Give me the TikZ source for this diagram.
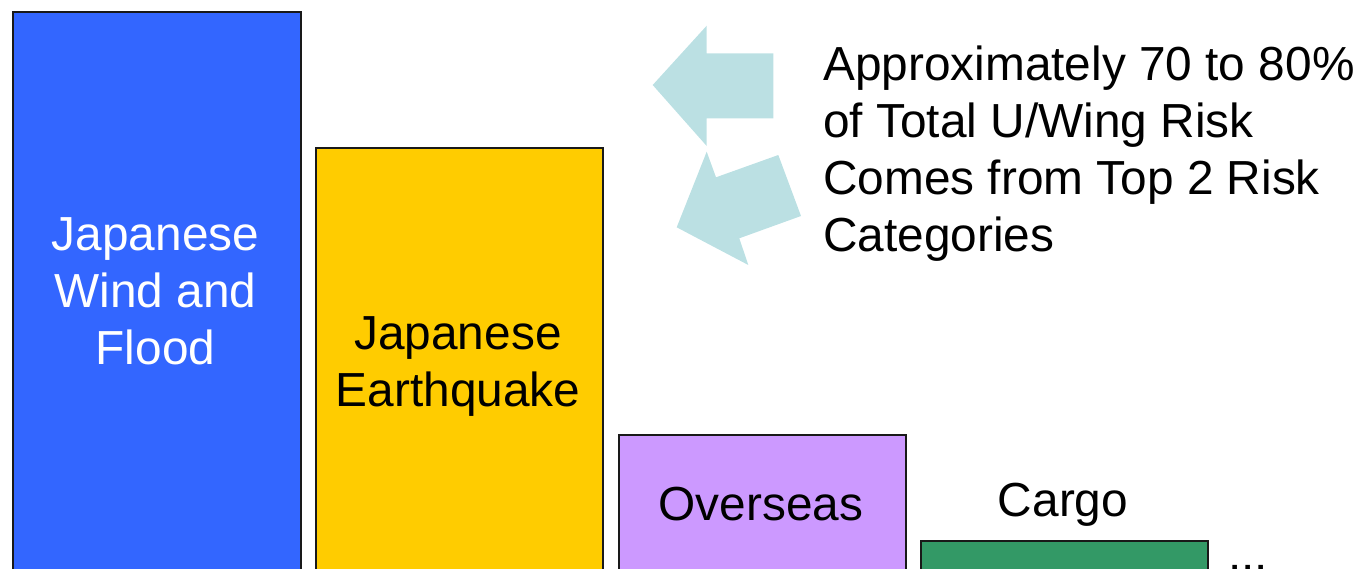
\documentclass[tikz,border=0pt]{standalone}
\usepackage{fontspec}
\setmainfont{Liberation Sans}
\definecolor{barblue}{RGB}{51,102,255}
\definecolor{baryellow}{RGB}{255,204,0}
\definecolor{barpurple}{RGB}{204,153,255}
\definecolor{bargreen}{RGB}{51,153,102}
\definecolor{arrowcol}{RGB}{187,224,227}
\begin{document}
\begin{tikzpicture}[x=1pt,y=-1pt,
  bar/.style={draw=black!90,line width=2pt,anchor=north west,inner sep=0pt},
  lbl/.style={font=\fontsize{47.8}{57}\selectfont,align=center,inner sep=0pt,anchor=north},
  bigarrow/.style={fill=arrowcol,draw=none}]
\useasboundingbox (0,0) rectangle (1360,568);
% bars
\node[bar,fill=barblue,minimum width=288pt,minimum height=600pt] (b1) at (11.5,10.5) {};
\node[bar,fill=baryellow,minimum width=287pt,minimum height=460pt] (b2) at (314.5,146.5) {};
\node[bar,fill=barpurple,minimum width=287pt,minimum height=200pt] (b3) at (617.5,433.5) {};
\node[bar,fill=bargreen,minimum width=287pt,minimum height=100pt] (b4) at (919.5,539.5) {};
% labels
\node[lbl,text=white] (t1) at (155.5,217) {Japanese\\Wind and\\Flood};
\node[lbl] (t2) at (458,316.5) {Japanese\\Earthquake};
\node[lbl] (t3) at (761,486.5) {Overseas};
\node[lbl] (t4) at (1063,482.5) {Cargo};
\node[font=\fontsize{47.8}{57}\selectfont,inner sep=0pt,anchor=base west] (dots) at (1228,570) {...};
\node[font=\fontsize{47.8}{57}\selectfont,align=left,inner sep=0pt,anchor=north west] (note) at (823,45.5)
  {Approximately 70 to 80\%\\of Total U/Wing Risk\\Comes from Top 2 Risk\\Categories};
% arrows
\fill[bigarrow] (652.7,85) -- (706.7,25.7) -- (706.7,53.3) -- (773.3,53.3) -- (773.3,118.3)
  -- (706.7,118.3) -- (706.7,146) -- cycle;
\fill[bigarrow] (676.7,227.3) -- (706.7,151.7) -- (716,177.3) -- (778.3,155) -- (801,216)
  -- (739.3,238.3) -- (748.3,265) -- cycle;
\end{tikzpicture}
\end{document}
